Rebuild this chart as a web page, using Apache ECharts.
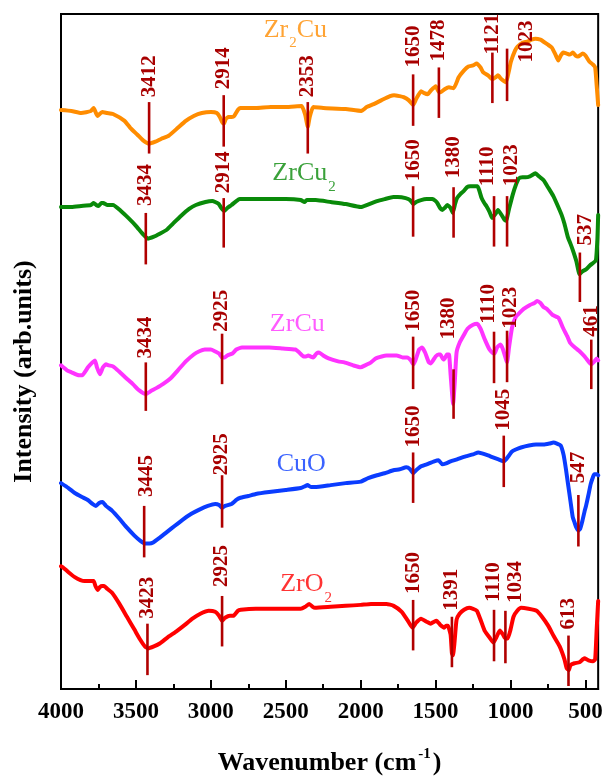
<!DOCTYPE html>
<html>
<head>
<meta charset="utf-8">
<script src="https://cdn.jsdelivr.net/npm/echarts@6/dist/echarts.min.js"></script>
<style>
html,body{margin:0;padding:0;background:#fff;}
#chart{width:616px;height:781px;}
</style>
</head>
<body>
<div id="chart"></div>
<script>
// ---- axis ticks ----
const majorTicks = [4000, 3500, 3000, 2500, 2000, 1500, 1000, 500];
const minorTicks = [3750, 3250, 2750, 2250, 1750, 1250, 750];

// ---- spectra: [wavenumber (cm-1), intensity (a.u., offset)] ----
const zr2cu = [[4000,585],[3930,584],[3865,582],[3800,584],[3782,587],[3757,579],[3725,583],[3692,582],[3653,581],[3576,574],[3538,567],[3490,560],[3450,554],[3412,551],[3370,553],[3330,556],[3281,559],[3220,567],[3167,574],[3114,579],[3060,582],[2999,583],[2960,582],[2940,578],[2925,573],[2913,571],[2900,576],[2882,578],[2860,578],[2844,579],[2820,585],[2805,587],[2700,587],[2600,588],[2500,588],[2394,589],[2370,580],[2353,568],[2340,578],[2317,588],[2250,587],[2100,586],[1996,584],[1960,588],[1913,591],[1860,595],[1804,599],[1777,600],[1740,599],[1713,598],[1680,595],[1650,590],[1630,596],[1597,604],[1575,602],[1553,601],[1530,605],[1499,609],[1478,603],[1466,603],[1440,606],[1411,608],[1379,607],[1346,618],[1310,625],[1281,629],[1250,630],[1226,632],[1200,628],[1182,623],[1150,620],[1121,616],[1100,618],[1084,620],[1060,616],[1030,613],[1010,625],[997,634],[970,645],[953,649],[920,653],[888,654],[860,656],[834,657],[800,656],[779,654],[750,651],[724,648],[700,641],[681,635],[665,640],[648,643],[625,642],[605,641],[583,643],[565,640],[550,639],[518,642],[500,640],[474,634],[450,631],[435,628],[425,610],[415,590]];

const zrcu2 = [[4000,487],[3930,487],[3865,488],[3800,489],[3782,491],[3765,489],[3750,488],[3730,491],[3718,491],[3690,489],[3653,489],[3600,483],[3551,476],[3500,468],[3450,459],[3420,455],[3380,457],[3341,460],[3294,464],[3254,470],[3200,478],[3145,485],[3100,489],[3036,492],[2990,493],[2971,492],[2947,490],[2930,486],[2910,483],[2890,486],[2862,489],[2830,493],[2807,495],[2700,495],[2611,495],[2500,495],[2400,494],[2375,492],[2360,494],[2300,494],[2200,492],[2100,490],[2000,487],[1960,489],[1891,493],[1840,495],[1782,497],[1752,497],[1700,496],[1670,494],[1650,490],[1630,492],[1597,494],[1560,495],[1521,495],[1500,493],[1488,491],[1470,486],[1455,484],[1440,486],[1422,489],[1400,486],[1385,481],[1370,490],[1357,496],[1335,500],[1313,503],[1290,507],[1270,508],[1245,508],[1220,508],[1205,502],[1193,496],[1175,491],[1161,488],[1140,482],[1123,476],[1100,480],[1084,484],[1060,479],[1040,474],[1030,473],[1010,485],[986,499],[965,509],[943,516],[920,517],[899,517],[870,518],[834,521],[810,518],[779,514],[750,507],[714,498],[690,490],[659,479],[640,470],[616,456],[600,450],[583,443],[560,432],[539,419],[520,422],[496,424],[470,428],[452,430],[430,433],[420,455],[415,479]];

const zrcu = [[4000,327],[3960,322],[3930,320],[3880,317],[3859,317],[3820,325],[3790,330],[3773,332],[3760,325],[3740,318],[3720,325],[3700,328],[3680,327],[3653,326],[3614,321],[3564,314],[3520,308],[3480,302],[3434,298],[3400,301],[3364,304],[3320,308],[3268,314],[3220,322],[3167,331],[3114,338],[3080,341],[3040,343],[3000,343],[2970,341],[2945,339],[2925,335],[2908,335],[2890,337],[2856,339],[2830,343],[2792,345],[2700,345],[2611,345],[2520,344],[2436,343],[2410,340],[2382,336],[2365,336],[2350,337],[2335,336],[2317,335],[2295,339],[2278,340],[2250,337],[2214,334],[2150,331],[2109,330],[2050,327],[2000,325],[1970,327],[1931,330],[1900,334],[1860,336],[1828,337],[1790,337],[1760,337],[1720,335],[1690,335],[1665,332],[1650,328],[1635,332],[1610,343],[1590,345],[1570,340],[1545,330],[1532,329],[1500,336],[1480,338],[1468,338],[1450,333],[1442,333],[1425,338],[1411,338],[1400,318],[1383,288],[1372,310],[1360,340],[1339,350],[1310,358],[1287,364],[1250,368],[1222,369],[1200,364],[1171,353],[1140,343],[1115,339],[1106,339],[1090,345],[1067,348],[1050,343],[1030,333],[1023,330],[1010,345],[990,365],[965,376],[940,380],[912,384],[870,388],[840,390],[823,392],[800,390],[780,386],[757,384],[720,378],[680,375],[650,365],[620,356],[603,350],[570,345],[545,342],[525,339],[500,335],[480,331],[461,328],[440,331],[425,334],[415,332]];

const cuo = [[4000,208],[3950,203],[3908,198],[3860,194],[3821,191],[3790,187],[3767,185],[3745,188],[3723,189],[3700,185],[3658,180],[3610,172],[3560,163],[3510,155],[3472,150],[3440,147],[3410,147],[3385,148],[3340,153],[3298,158],[3240,165],[3189,171],[3130,177],[3080,181],[3020,185],[2971,187],[2945,186],[2925,183],[2905,185],[2862,187],[2830,191],[2807,193],[2750,195],[2700,197],[2611,199],[2500,201],[2400,203],[2370,205],[2355,206],[2330,204],[2306,204],[2200,206],[2100,208],[2000,209.5],[1950,213],[1891,216],[1840,218],[1782,221],[1740,222],[1695,224],[1670,222],[1650,218],[1630,221],[1597,225],[1560,227],[1509,230],[1480,231],[1455,227],[1430,228],[1400,230],[1357,232],[1300,235],[1250,237],[1215,239],[1190,238],[1150,236],[1117,234],[1080,232],[1045,230],[1030,232],[1010,236],[990,240],[965,242],[930,244],[877,246],[830,247],[779,247],[740,248],[714,249],[690,248],[665,246],[645,236],[630,222],[616,207],[600,190],[585,174],[572,168],[560,163],[547,160],[535,162],[520,170],[505,180],[496,185],[480,196],[465,207],[450,214],[441,217],[425,217],[415,216]];

const zro2 = [[4000,124],[3988,123],[3950,118],[3908,113],[3870,110],[3843,109],[3800,109],[3782,109],[3770,104],[3756,100],[3740,103],[3725,104],[3712,104],[3690,101],[3658,97],[3610,86],[3560,73],[3510,60],[3472,50],[3440,43],[3418,41],[3380,43],[3341,46],[3290,52],[3232,58],[3180,64],[3123,71],[3070,76],[3014,79],[2971,78],[2945,74],[2925,69],[2905,72],[2873,74],[2850,74],[2820,79],[2800,80],[2700,81],[2600,81],[2500,81],[2400,81],[2370,83],[2343,86],[2320,83],[2305,82],[2200,83],[2100,84],[2000,85],[1931,86],[1880,86],[1828,86],[1780,84],[1726,78],[1690,70],[1665,64],[1654,62],[1630,67],[1597,71],[1560,68],[1533,66],[1510,68],[1494,69],[1470,65],[1443,62],[1430,64],[1418,64],[1400,55],[1391,36],[1384,34],[1375,45],[1360,70],[1340,76],[1310,80],[1276,82],[1250,81],[1224,79],[1200,70],[1173,59],[1140,52],[1114,47],[1095,52],[1071,59],[1050,55],[1034,51],[1019,51],[1000,60],[980,73],[955,79],[929,82],[880,81],[826,79],[790,73],[749,64],[710,53],[672,43],[640,30],[625,21],[611,19],[600,24],[573,26],[540,27],[507,31],[480,29],[450,28],[435,30],[425,60],[415,89]];

// ---- peak markers: wavenumber, line top/bottom (a.u.), label base (a.u.), label shift (px) ----
const zr2cuPeaks = [[3412,593,541,598,0],[2914,600,548,606,0],[2353,593,541,598,0],[1650,621,569,628,0],[1478,628,577,634,0],[1121,643,592,641,0],[1023,647,594,633,20]];
const zrcu2Peaks = [[3434,481,429,488,0],[2914,496,446,501,0],[1650,508,457,513,0],[1380,507,456,516,0],[1110,498,447,508,-6],[1023,498,447,508,5],[537,441,391,448,6]];
const zrcuPeaks = [[3434,330,281,334,0],[2925,359,308,361,0],[1650,356,303,361,0],[1380,323,273,353,-5],[1110,361,309,369,-5],[1023,362,310,364,4],[461,353,303,356,0]];
const cuoPeaks = [[3445,185,133,194,2],[2925,216,163,216,0],[1650,239,188,244,0],[1045,256,204,261,0],[547,196,144,208,0]];
const zro2Peaks = [[3423,66,14,71,0],[2925,94,43,103,0],[1650,90,39,96,0],[1391,73,22,79,0],[1110,80,28,88,0],[1034,79,26,87,10],[613,54,3,60,0]];

// ---- sample names: [wavenumber, intensity, rich text] ----
const sampleNames = [[2436,664,'{m|Zr}{s|2}{m|Cu}'],[2378,519,'{m|ZrCu}{s|2}'],[2423,367,'{m|ZrCu}'],[2397,225,'{m|CuO}'],[2364,104,'{m|ZrO}{s|2}']];
const sampleColors = ['#ff8c00','#098a09','#ff33ff','#0a3cff','#ff0000'];
const spectra = [zr2cu, zrcu2, zrcu, cuo, zro2];
const peaks = [zr2cuPeaks, zrcu2Peaks, zrcuPeaks, cuoPeaks, zro2Peaks];

const SERIF = '"Liberation Serif","Times New Roman",serif';
const PEAK_COLOR = '#b00000';

const chart = echarts.init(document.getElementById('chart'), null, {renderer: 'canvas'});

const series = [];
spectra.forEach((d, i) => {
  series.push({
    type: 'line', data: d, showSymbol: false, symbol: 'none', smooth: 0.15,
    lineStyle: {color: sampleColors[i], width: 4, join: 'round', cap: 'round'},
    silent: true, z: 3
  });
});
peaks.forEach((pk) => {
  series.push({
    type: 'custom', data: pk, silent: true, z: 4,
    renderItem: function (params, api) {
      const item = pk[params.dataIndex];
      const top = api.coord([item[0], item[1]]);
      const bot = api.coord([item[0], item[2]]);
      const lab = api.coord([item[0], item[3]]);
      return {type: 'group', children: [
        {type: 'line', shape: {x1: top[0], y1: top[1], x2: bot[0], y2: bot[1]},
         style: {stroke: PEAK_COLOR, lineWidth: 2.6}},
        {type: 'text', x: lab[0] + item[4], y: lab[1], rotation: Math.PI / 2,
         style: {text: String(item[0]), fill: '#a80000', font: 'bold 21px ' + SERIF,
                 align: 'left', verticalAlign: 'middle'}}
      ]};
    }
  });
});
series.push({
  type: 'scatter', symbolSize: 0, silent: true, z: 5,
  data: sampleNames.map((n, i) => ({
    value: [n[0], n[1]],
    label: {
      show: true, position: 'inside', formatter: n[2],
      rich: {
        m: {fontFamily: SERIF, fontSize: 26, color: sampleColors[i], lineHeight: 30, verticalAlign: 'top'},
        s: {fontFamily: SERIF, fontSize: 15, color: sampleColors[i], lineHeight: 15, padding: [19, 0, 0, 1], verticalAlign: 'top'}
      }
    }
  }))
});

chart.setOption({
  animation: false,
  backgroundColor: '#fff',
  grid: {left: 61, right: 7, top: 14, bottom: 85, show: true, borderColor: '#000', borderWidth: 2, backgroundColor: 'transparent'},
  xAxis: [{
    type: 'value', inverse: true, min: 415, max: 4000,
    splitLine: {show: false},
    axisLine: {show: true, lineStyle: {color: '#000', width: 2}},
    axisTick: {show: true, inside: true, length: 9, customValues: majorTicks, lineStyle: {color: '#000', width: 2}},
    axisLabel: {show: true, customValues: majorTicks, formatter: (v) => String(v), margin: 12, color: '#000', fontFamily: SERIF, fontWeight: 'bold', fontSize: 23},
    name: '{b|Wavenumber (cm}{sup|-1}{b|)}',
    nameLocation: 'middle', nameGap: 57,
    nameTextStyle: {
      rich: {
        b: {fontFamily: SERIF, fontWeight: 'bold', fontSize: 26, color: '#000', lineHeight: 30, verticalAlign: 'bottom'},
        sup: {fontFamily: SERIF, fontWeight: 'bold', fontSize: 15, color: '#000', lineHeight: 15, padding: [0, 2, 14, 2], verticalAlign: 'bottom'}
      }
    }
  }, {
    type: 'value', inverse: true, min: 415, max: 4000, position: 'bottom',
    splitLine: {show: false},
    axisLine: {show: false},
    axisTick: {show: true, inside: true, length: 5, customValues: minorTicks, lineStyle: {color: '#000', width: 2}},
    axisLabel: {show: false}
  }],
  yAxis: {
    type: 'value', min: 0, max: 682,
    splitLine: {show: false}, axisTick: {show: false}, axisLabel: {show: false},
    axisLine: {show: true, lineStyle: {color: '#000', width: 2}},
    name: 'Intensity (arb.units)', nameLocation: 'middle', nameGap: 24,
    nameTextStyle: {fontFamily: SERIF, fontWeight: 'bold', fontSize: 26, color: '#000', padding: [0, 40, 0, 0]}
  },
  series: series
});
</script>
</body>
</html>
